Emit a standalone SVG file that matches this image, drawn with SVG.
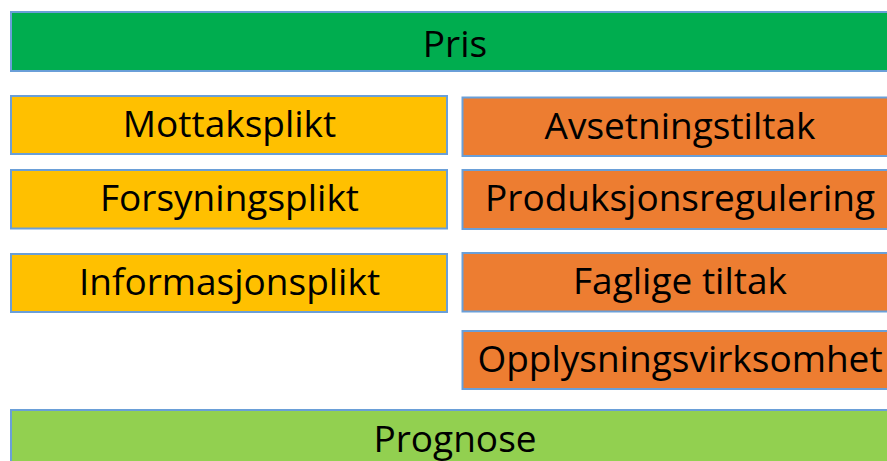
<svg xmlns="http://www.w3.org/2000/svg" width="887" height="461" viewBox="0 0 887 461">
<style>
.b{stroke:#6a9fd8;stroke-width:2}
.g1{fill:#00ad4f}
.y{fill:#ffc000}
.o{fill:#ed7d31}
.g2{fill:#92d050}
text{font-family:"Open Sans","Liberation Sans",sans-serif;font-size:37px;fill:#000;text-anchor:middle}
</style>
<g id="pris"><rect class="b g1" x="11" y="12" width="880" height="59"/><text x="455" y="57">Pris</text></g>
<g id="mottaksplikt"><rect class="b y" x="11" y="96" width="436" height="58"/><text x="229.5" y="137">Mottaksplikt</text></g>
<g id="forsyningsplikt"><rect class="b y" x="11" y="170" width="436" height="58.5"/><text x="229.5" y="211">Forsyningsplikt</text></g>
<g id="informasjonsplikt"><rect class="b y" x="11" y="254" width="436" height="58"/><text x="229.5" y="295">Informasjonsplikt</text></g>
<g id="avsetningstiltak"><rect class="b o" x="462.5" y="97.5" width="430" height="58.5"/><text x="680" y="138.5">Avsetningstiltak</text></g>
<g id="produksjonsregulering"><rect class="b o" x="462.5" y="170" width="430" height="59"/><text x="680" y="211">Produksjonsregulering</text></g>
<g id="faglige"><rect class="b o" x="462.5" y="253" width="430" height="58.5"/><text x="680" y="294">Faglige tiltak</text></g>
<g id="opplysning"><rect class="b o" x="462.5" y="331" width="430" height="58"/><text x="680" y="372">Opplysningsvirksomhet</text></g>
<g id="prognose"><rect class="b g2" x="11" y="410" width="880" height="60"/><text x="455" y="452">Prognose</text></g>
<g id="connectors"/>
</svg>
